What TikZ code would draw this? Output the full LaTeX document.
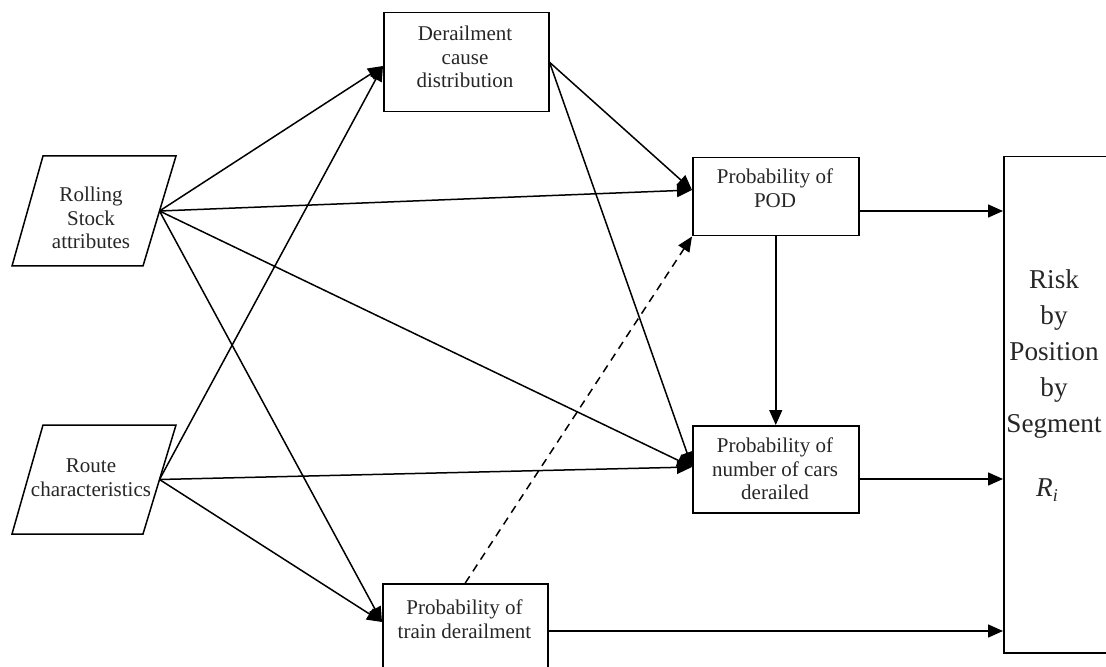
\documentclass[tikz,border=0pt]{standalone}
\usepackage{fontspec}
\setmainfont{Liberation Serif}
\usetikzlibrary{arrows.meta,calc}
\begin{document}
\begin{tikzpicture}[x=0.5pt,y=-0.5pt,line width=0.75pt,
  arr/.style={-{Triangle[length=7.5pt,width=6.5pt]}},
  box/.style={draw,rectangle,anchor=north west,inner sep=0pt},
  txt/.style={align=center,inner sep=0pt,text=black!85,font=\fontsize{10.5}{11.8}\selectfont},
  bigtxt/.style={align=center,inner sep=0pt,text=black!85,font=\fontsize{13.6}{18}\selectfont}]
\useasboundingbox (0,0) rectangle (1106,667);
\clip (0,0) rectangle (1106,667);
% parallelograms
\draw (43,156) -- (176,156) -- (143,266) -- (12,266) -- cycle;
\node[txt] (rolltxt) at (91,218) {Rolling\\Stock\\attributes};
\coordinate (rs) at (159.5,211);
\draw (43,425) -- (176,425) -- (143,534) -- (12,534) -- cycle;
\node[txt] (routetxt) at (91,478) {Route\\characteristics};
\coordinate (rt) at (159.5,479.5);
% boxes
\node[box,minimum width=82.5pt,minimum height=49.5pt] (cause) at (383,12) {};
\node[txt] (causetxt) at (465,57) {Derailment\\cause\\distribution};
\node[box,minimum width=83pt,minimum height=39pt] (pod) at (692,157) {};
\node[txt] (podtxt) at (775,188) {Probability of\\POD};
\node[box,minimum width=83pt,minimum height=43.5pt] (cars) at (692,425) {};
\node[txt] (carstxt) at (775,469) {Probability of\\number of cars\\derailed};
\node[box,minimum width=82.5pt,minimum height=60pt] (train) at (382,583) {};
\node[txt] (traintxt) at (464.5,619) {Probability of\\train derailment};
\node[box,minimum width=63.5pt,minimum height=248pt] (risk) at (1003,156) {};
\node[bigtxt] (risktxt) at (1054,354) {Risk\\by\\Position\\by\\Segment};
\node[bigtxt] (ri) at (1047,490) {\itshape R\raisebox{-0.4ex}{\fontsize{9}{9}\selectfont i}};
% input points
\coordinate (causeIn) at (383,66);
\coordinate (podIn) at (692,190);
\coordinate (carsIn) at (692,467);
\coordinate (trainIn) at (382,622);
% connectors
\draw[arr] (rs) -- (causeIn);
\draw[arr] (rt) -- (causeIn);
\draw[arr] (rs) -- (podIn);
\draw[arr] (rs) -- (carsIn);
\draw[arr] (rt) -- (carsIn);
\draw[arr] (rs) -- (trainIn);
\draw[arr] (rt) -- (trainIn);
\draw[arr] (cause.east) -- (podIn);
\draw[arr] (cause.east) -- (carsIn);
\draw[arr] (pod.south) -- (cars.north);
\draw[arr,dash pattern=on 4pt off 3pt] (train.north) -- (pod.south west);
\coordinate (podOut) at (858,211);
\coordinate (carsOut) at (858,479);
\coordinate (trainOut) at (547,631);
\draw[arr] (podOut) -- (podOut -| risk.west);
\draw[arr] (carsOut) -- (carsOut -| risk.west);
\draw[arr] (trainOut) -- (trainOut -| risk.west);
\end{tikzpicture}
\end{document}
